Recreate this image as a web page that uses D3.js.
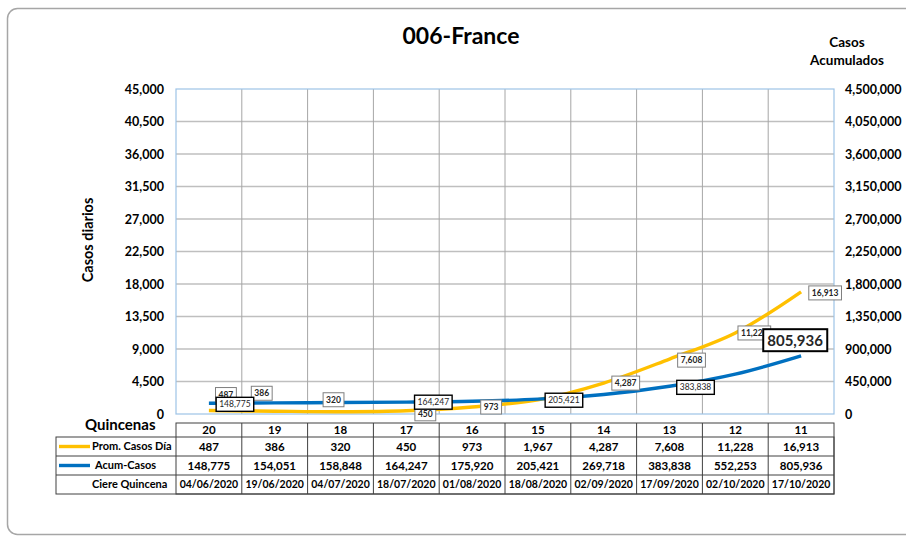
<!DOCTYPE html>
<html>
<head>
<meta charset="utf-8">
<script src="https://cdn.jsdelivr.net/npm/d3@7"></script>
<style>
  body { margin: 0; background: #fff; }
  svg text { font-family: Lato, 'Open Sans', sans-serif; }
</style>
</head>
<body>
<div id="chart"></div>
<script>
// data
var quincenas = ['20', '19', '18', '17', '16', '15', '14', '13', '12', '11'];
var promCasos = [487, 386, 320, 450, 973, 1967, 4287, 7608, 11228, 16913];
var acumCasos = [148775, 154051, 158848, 164247, 175920, 205421, 269718, 383838, 552253, 805936];
var cierre = ['04/06/2020', '19/06/2020', '04/07/2020', '18/07/2020', '01/08/2020',
  '18/08/2020', '02/09/2020', '17/09/2020', '02/10/2020', '17/10/2020'];
var leftTicks = [0, 4500, 9000, 13500, 18000, 22500, 27000, 31500, 36000, 40500, 45000];
var rightTicks = [0, 450000, 900000, 1350000, 1800000, 2250000, 2700000, 3150000, 3600000, 4050000, 4500000];

// label offsets (px from the point), null = label hidden
var promLabelPos = [[17, -16], [-13, -18], [-7, -12], [19, 3], [19, 0], null, [22, 0], [22, 1], [19, 0], [24, 1]];
var acumLabelPos = [[26, 1], null, null, [27, 0], null, [26, 1], null, [26, 1], null, [-6, -15]];

var width = 906, height = 536;
var plot = { left: 176, right: 834, top: 89, bottom: 414 };
var yellow = '#FFC000', blue = '#0070C0';

var svg = d3.select('#chart').append('svg')
  .attr('width', width)
  .attr('height', height);

// outer frame
svg.append('rect')
  .attr('x', 7.5).attr('y', 8.5)
  .attr('width', 930).attr('height', 526)
  .attr('rx', 10)
  .attr('fill', 'none')
  .attr('stroke', '#a6a6a6')
  .attr('stroke-width', 1.5);

// scales
var x = d3.scaleBand().domain(quincenas).range([plot.left, plot.right]);
var yLeft = d3.scaleLinear().domain([0, 45000]).range([plot.bottom, plot.top]);
var yRight = d3.scaleLinear().domain([0, 4500000]).range([plot.bottom, plot.top]);
var cx = d => x(d) + x.bandwidth() / 2;

// horizontal grid
svg.append('g')
  .selectAll('line')
  .data(leftTicks.slice(1, -1))
  .enter().append('line')
  .attr('x1', plot.left).attr('x2', plot.right)
  .attr('y1', d => yLeft(d)).attr('y2', d => yLeft(d))
  .attr('stroke', '#bfbfbf')
  .attr('stroke-width', 1.3);

// vertical grid at category boundaries
svg.append('g')
  .selectAll('line')
  .data(quincenas.slice(1))
  .enter().append('line')
  .attr('x1', d => x(d)).attr('x2', d => x(d))
  .attr('y1', plot.top).attr('y2', plot.bottom)
  .attr('stroke', '#a6a6a6')
  .attr('stroke-width', 1);

// plot border
svg.append('rect')
  .attr('x', plot.left).attr('y', plot.top)
  .attr('width', plot.right - plot.left).attr('height', plot.bottom - plot.top)
  .attr('fill', 'none')
  .attr('stroke', '#9dc3e6')
  .attr('stroke-width', 1.2);

// axes
var leftAxis = d3.axisLeft(yLeft).tickValues(leftTicks).tickSize(0).tickPadding(12).tickFormat(d3.format(','));
var gl = svg.append('g').attr('transform', 'translate(' + plot.left + ',0)').call(leftAxis);
var rightAxis = d3.axisRight(yRight).tickValues(rightTicks).tickSize(0).tickPadding(11).tickFormat(d3.format(','));
var gr = svg.append('g').attr('transform', 'translate(' + plot.right + ',0)').call(rightAxis);
[gl, gr].forEach(g => {
  g.select('.domain').remove();
  g.selectAll('text')
    .attr('font-size', '12.5px')
    .attr('font-weight', 'bold')
    .attr('fill', '#000');
});

// lines
var lineLeft = d3.line()
  .x((d, i) => cx(quincenas[i]))
  .y(d => yLeft(d))
  .curve(d3.curveCatmullRom.alpha(0.5));
var lineRight = d3.line()
  .x((d, i) => cx(quincenas[i]))
  .y(d => yRight(d))
  .curve(d3.curveCatmullRom.alpha(0.5));

svg.append('path')
  .datum(promCasos)
  .attr('d', lineLeft)
  .attr('fill', 'none')
  .attr('stroke', yellow)
  .attr('stroke-width', 3.4);
svg.append('path')
  .datum(acumCasos)
  .attr('d', lineRight)
  .attr('fill', 'none')
  .attr('stroke', blue)
  .attr('stroke-width', 3.4);

// data labels
function addLabels(values, scale, pos, style) {
  values.forEach((v, i) => {
    var p = pos[i];
    if (!p) return;
    var big = style.big && i === values.length - 1;
    var fs = big ? 15 : 8.5;
    var g = svg.append('g')
      .attr('transform', 'translate(' + (cx(quincenas[i]) + p[0]) + ',' + (scale(v) + p[1]) + ')');
    var t = g.append('text')
      .attr('text-anchor', 'middle')
      .attr('dy', '0.36em')
      .attr('font-size', fs + 'px')
      .attr('font-weight', big ? 'bold' : style.weight)
      .attr('fill', '#262626')
      .text(d3.format(',')(v));
    var bb = t.node().getBBox();
    var padX = big ? 4 : 3, padY = 2;
    g.insert('rect', 'text')
      .attr('x', bb.x - padX).attr('y', bb.y - padY)
      .attr('width', bb.width + 2 * padX).attr('height', bb.height + 2 * padY)
      .attr('fill', '#fff')
      .attr('stroke', style.stroke)
      .attr('stroke-width', big ? 2 : style.sw);
  });
}
addLabels(promCasos, yLeft, promLabelPos, { stroke: '#7f7f7f', sw: 1, weight: 'bold' });
addLabels(acumCasos, yRight, acumLabelPos, { stroke: '#000', sw: 1.4, weight: 'normal', big: true });

// titles
svg.append('text')
  .attr('x', 461).attr('y', 44)
  .attr('text-anchor', 'middle')
  .attr('font-size', '23px')
  .attr('font-weight', 'bold')
  .text('006-France');
svg.append('text')
  .attr('x', 847).attr('y', 47)
  .attr('text-anchor', 'middle')
  .attr('font-size', '13.5px')
  .attr('font-weight', 'bold')
  .text('Casos');
svg.append('text')
  .attr('x', 847).attr('y', 65)
  .attr('text-anchor', 'middle')
  .attr('font-size', '13.5px')
  .attr('font-weight', 'bold')
  .text('Acumulados');
svg.append('text')
  .attr('transform', 'translate(93,240) rotate(-90)')
  .attr('text-anchor', 'middle')
  .attr('font-size', '14.5px')
  .attr('font-weight', 'bold')
  .text('Casos diarios');
svg.append('text')
  .attr('x', 85).attr('y', 430)
  .attr('font-size', '15px')
  .attr('font-weight', 'bold')
  .text('Quincenas');

// data table
var rowTop = [423, 437, 456, 475];
var rowBottom = [437, 456, 475, 494];
var tableLeft = 56;
var tbl = svg.append('g');

tbl.append('rect')
  .attr('x', plot.left).attr('y', rowTop[0])
  .attr('width', plot.right - plot.left).attr('height', rowBottom[3] - rowTop[0])
  .attr('fill', 'none').attr('stroke', '#404040').attr('stroke-width', 1);
tbl.append('rect')
  .attr('x', tableLeft).attr('y', rowTop[1])
  .attr('width', plot.right - tableLeft).attr('height', rowBottom[3] - rowTop[1])
  .attr('fill', 'none').attr('stroke', '#404040').attr('stroke-width', 1);
[2, 3].forEach(r => {
  tbl.append('line')
    .attr('x1', tableLeft).attr('x2', plot.right)
    .attr('y1', rowTop[r]).attr('y2', rowTop[r])
    .attr('stroke', '#404040');
});
tbl.selectAll('.col')
  .data(quincenas.slice(1))
  .enter().append('line')
  .attr('x1', d => x(d)).attr('x2', d => x(d))
  .attr('y1', rowTop[0]).attr('y2', rowBottom[3])
  .attr('stroke', '#404040');

var rows = [
  quincenas,
  promCasos.map(d3.format(',')),
  acumCasos.map(d3.format(',')),
  cierre
];
rows.forEach((vals, r) => {
  tbl.selectAll('.r' + r)
    .data(vals)
    .enter().append('text')
    .attr('x', (d, i) => cx(quincenas[i]))
    .attr('y', (rowTop[r] + rowBottom[r]) / 2)
    .attr('dy', '0.36em')
    .attr('text-anchor', 'middle')
    .attr('font-size', r === 3 ? '10.5px' : '11.5px')
    .attr('font-weight', 'bold')
    .text(d => d);
});

// row labels with legend keys
var rowLabels = [
  { text: 'Prom. Casos Día', color: yellow, r: 1, tx: 92 },
  { text: 'Acum-Casos', color: blue, r: 2, tx: 95 },
  { text: 'Ciere Quincena', color: null, r: 3, tx: 92 }
];
rowLabels.forEach(l => {
  var ym = (rowTop[l.r] + rowBottom[l.r]) / 2;
  if (l.color) {
    tbl.append('line')
      .attr('x1', 59).attr('x2', 90)
      .attr('y1', ym).attr('y2', ym)
      .attr('stroke', l.color)
      .attr('stroke-width', 3.4);
  }
  tbl.append('text')
    .attr('x', l.tx).attr('y', ym)
    .attr('dy', '0.36em')
    .attr('font-size', '11px')
    .attr('font-weight', 'bold')
    .text(l.text);
});
</script>
</body>
</html>
